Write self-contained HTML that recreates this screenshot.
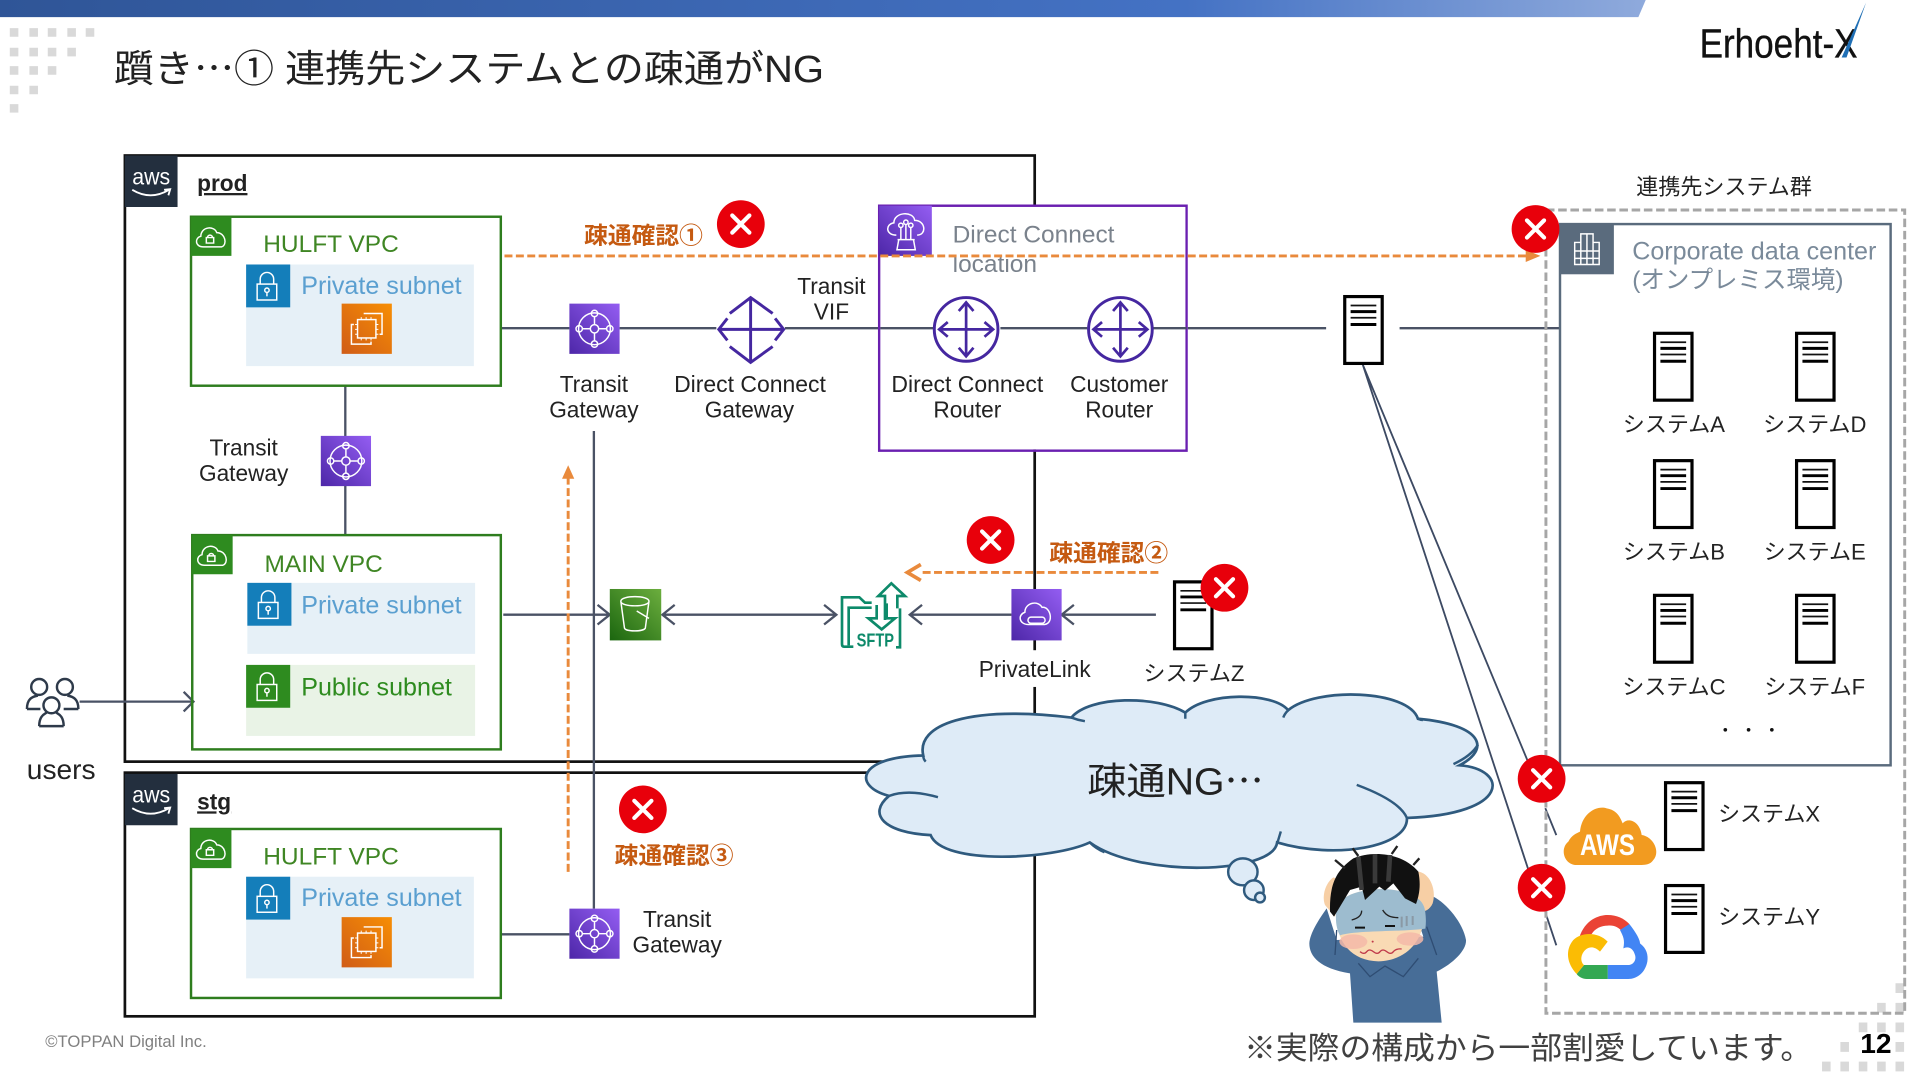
<!DOCTYPE html>
<html lang="ja"><head><meta charset="utf-8"><title>疎通NG</title>
<style>
html,body{margin:0;padding:0;background:#fff;width:1920px;height:1080px;overflow:hidden}
svg{display:block}
text{font-family:"Liberation Sans","Noto Sans CJK JP",sans-serif;fill:#222}
.j{font-family:"Noto Sans CJK JP",sans-serif}
.c{text-anchor:middle}
.l{font-size:18.5px}
.s{font-size:18px}
.g{fill:#3f8624;font-size:20px}
.b{fill:#5a9fd0;font-size:20.5px}
.o{fill:#c55a11;font-size:19px;font-weight:700}
.ln{stroke:#4a5265;stroke-width:1.900;fill:none}
.w{stroke:#fff;stroke-width:1.200;fill:none}
</style></head><body>
<svg xmlns="http://www.w3.org/2000/svg" width="1920" height="1080" viewBox="0 0 1568 882">
<defs>
<linearGradient id="bar" x1="0" x2="1" y1="0" y2="0"><stop offset="0" stop-color="#2f5597"/><stop offset=".72" stop-color="#4472c4"/><stop offset="1" stop-color="#8faadc"/></linearGradient>
<linearGradient id="pu" x1="1" x2="0" y1="0" y2="1"><stop offset="0" stop-color="#945df2"/><stop offset="1" stop-color="#4d27a8"/></linearGradient>
<linearGradient id="or" x1="1" x2="0" y1="0" y2="1"><stop offset="0" stop-color="#f78e04"/><stop offset="1" stop-color="#d05c17"/></linearGradient>
<linearGradient id="gr" x1="1" x2="0" y1="0" y2="1"><stop offset="0" stop-color="#6cae3e"/><stop offset="1" stop-color="#1b660f"/></linearGradient>
<g id="srv"><rect x="1.200" y="1.200" width="30.600" height="54.600" fill="#fff" stroke="#000" stroke-width="2.600"/><path d="M6 8.500h21M6 18.500h21" stroke="#111" stroke-width="1.400"/><path d="M6 13.500h21M6 24h21" stroke="#000" stroke-width="2.400"/></g>
<g id="tgw"><path d="M0 0h41v41H0z" fill="url(#pu)"/><circle cx="20.500" cy="20.500" r="13" class="w"/><circle cx="20.500" cy="20.500" r="3.400" class="w"/><circle cx="20.500" cy="8" r="2.600" class="w"/><circle cx="20.500" cy="33" r="2.600" class="w"/><circle cx="8" cy="20.500" r="2.600" class="w"/><circle cx="33" cy="20.500" r="2.600" class="w"/><path d="M20.500 10.500v6.500M20.500 24v6.500M10.500 20.500h6.500M24 20.500h6.500" class="w"/></g>
<g id="ec2"><path d="M0 0h41v41H0z" fill="url(#or)"/><rect x="13" y="13" width="15" height="15" class="w"/><path d="M16 11v2M20 11v2M24 11v2M16 28v2M20 28v2M24 28v2M11 17h2M11 21h2M11 25h2M28 17h2M28 21h2M28 25h2" stroke="#fff" stroke-width=".8"/><path d="M18 8h15v17h-2M10 17H8v16h16v-2" class="w"/></g>
<g id="vpc"><path d="M0 0h33v32H0z" fill="#2e8b1f"/><path d="M10 24.600C3 24.600 3 17 8 16 8 8 19 7 21 13 28 13 30 23 25 24.600Z" class="w"/><path d="M12.500 17h6v4.500h-6zM13.500 17a2 2 0 0 1 4 0" class="w" stroke-width="1"/></g>
<g id="lock"><rect x="9" y="16" width="16" height="13" class="w"/><path d="M11.500 16v-4a5.500 5.500 0 0 1 11 0v4" class="w"/><circle cx="17" cy="21" r="1.800" class="w"/><path d="M17 23v3" class="w"/></g>
<g id="aws"><path d="M0 0h43v42H0z" fill="#232f3e"/><path d="M6 28q15 9 30 0M32 28l5-.5-1.500 5" fill="none" stroke="#fff" stroke-width="1.500"/></g>
<g id="x"><circle r="19.500" fill="#e8000b"/><path d="M-7-7 7 7M7-7-7 7" stroke="#fff" stroke-width="3.400" stroke-linecap="round"/></g>
<g id="rt"><circle r="26" fill="#fff" stroke="#4527a0" stroke-width="2.400"/><path d="M-21 0H21M0-21V21" stroke="#4527a0" stroke-width="2.200"/><path d="M-15-6-22 0-15 6M15-6 22 0 15 6M-6-15 0-22 6-15M-6 15 0 22 6 15" fill="none" stroke="#4527a0" stroke-width="2.200"/></g>
</defs>

<!-- header -->
<polygon points="0,0 1344,0 1338,14 0,14" fill="url(#bar)"/>
<g fill="#d9d9d9">
<path d="M8 23h7v7H8zM24 23h7v7h-7zM39 23h7v7h-7zM55 23h7v7h-7zM70 23h7v7h-7zM8 39h7v7H8zM24 39h7v7h-7zM39 39h7v7h-7zM55 39h7v7h-7zM8 54h7v7H8zM24 54h7v7h-7zM39 54h7v7h-7zM8 70h7v7H8zM24 70h7v7h-7zM8 85h7v7H8z"/>
<path d="M1548 803h7v8h-7zM1533 819h7v8h-7zM1548 819h7v8h-7zM1518 835h7v8h-7zM1533 835h7v8h-7zM1548 835h7v8h-7zM1503 851h7v8h-7zM1548 851h7v8h-7zM1488 867h7v8h-7zM1503 867h7v8h-7zM1518 867h7v8h-7zM1533 867h7v8h-7zM1548 867h7v8h-7z"/>
</g>
<text x="93" y="67" font-size="31" textLength="580" lengthAdjust="spacingAndGlyphs">躓き<tspan class="j">…</tspan>① 連携先システムとの疎通がNG</text>
<text x="1388" y="47" font-size="33.500" style="fill:#111" stroke="#111" stroke-width=".3" textLength="129" lengthAdjust="spacingAndGlyphs">Erhoeht-X</text>
<polygon points="1504,47 1508,47 1524,2" fill="#1f6fb5"/>

<!-- prod / stg -->
<rect x="102" y="127" width="743" height="495" fill="#fff" stroke="#111" stroke-width="2.200"/>
<rect x="102" y="631" width="743" height="199" fill="#fff" stroke="#111" stroke-width="2.200"/>
<use href="#aws" x="102" y="127"/><text x="123.500" y="150.500" class="c" font-size="19" style="fill:#fff" textLength="31" lengthAdjust="spacingAndGlyphs">aws</text>
<use href="#aws" x="102" y="632"/><text x="123.500" y="655.500" class="c" font-size="19" style="fill:#fff" textLength="31" lengthAdjust="spacingAndGlyphs">aws</text>
<text x="161" y="156" font-size="18.500" font-weight="700" text-decoration="underline">prod</text>
<text x="161" y="661" font-size="18.500" font-weight="700" text-decoration="underline">stg</text>

<!-- lines behind -->
<path class="ln" d="M409 268H465M506 268H585M641 268H762M817 268H888M970 268H1083M1143 268H1275"/>
<path class="ln" d="M282 315V437"/>
<path class="ln" d="M485 352V742" stroke-width="1.500"/>
<path class="ln" d="M409 763H465"/>
<path class="ln" d="M411 502H497M488 494 498 502 488 510"/>
<path class="ln" d="M541 502H683M551 494 541 502 551 510M673 494 683 502 673 510"/>
<path class="ln" d="M743 502H826M753 494 743 502 753 510"/>
<path class="ln" d="M867 502H944M877 494 867 502 877 510"/>
<path class="ln" d="M65 573H158M150 565 158 573 150 581"/>
<path d="M1113 298 1252 632M1113 298 1252 722" stroke="#3d4a63" stroke-width="1.500" fill="none"/>
<path d="M1262 660 1271 682M1262 745 1271 772" stroke="#3d4a63" stroke-width="1.500" fill="none"/>

<!-- VPC HULFT prod -->
<rect x="156" y="177" width="253" height="138" fill="none" stroke="#2e7d1e" stroke-width="2"/>
<use href="#vpc" x="156" y="177"/>
<text x="215" y="206" class="g">HULFT VPC</text>
<rect x="201" y="216" width="186" height="83" fill="#e6f0f7"/>
<rect x="201" y="216" width="36" height="35" fill="#147eba"/><use href="#lock" x="201" y="216"/>
<text x="246" y="240" class="b">Private subnet</text>
<use href="#ec2" x="279" y="248"/>

<!-- MAIN VPC -->
<rect x="157" y="437" width="252" height="175" fill="none" stroke="#2e7d1e" stroke-width="2"/>
<use href="#vpc" x="157" y="437"/>
<text x="216" y="467" class="g">MAIN VPC</text>
<rect x="202" y="476" width="186" height="58" fill="#e6f0f7"/>
<rect x="202" y="476" width="36" height="35" fill="#147eba"/><use href="#lock" x="202" y="476"/>
<text x="246" y="501" class="b">Private subnet</text>
<rect x="201" y="543" width="187" height="58" fill="#e9f3e6"/>
<rect x="201" y="543" width="36" height="35" fill="#2e8b1f"/><use href="#lock" x="201" y="543"/>
<text x="246" y="568" class="g" style="font-size:20.500px;fill:#2e8b1f">Public subnet</text>

<!-- VPC HULFT stg -->
<rect x="156" y="677" width="253" height="138" fill="none" stroke="#2e7d1e" stroke-width="2"/>
<use href="#vpc" x="156" y="677"/>
<text x="215" y="706" class="g">HULFT VPC</text>
<rect x="201" y="716" width="186" height="83" fill="#e6f0f7"/>
<rect x="201" y="716" width="36" height="35" fill="#147eba"/><use href="#lock" x="201" y="716"/>
<text x="246" y="740" class="b">Private subnet</text>
<use href="#ec2" x="279" y="749"/>

<!-- TGWs -->
<use href="#tgw" x="465" y="248"/>
<use href="#tgw" x="262" y="356"/>
<use href="#tgw" x="465" y="742"/>
<text x="485" y="320" class="c l">Transit</text><text x="485" y="341" class="c l">Gateway</text>
<text x="199" y="372" class="c l">Transit</text><text x="199" y="393" class="c l">Gateway</text>
<text x="553" y="757" class="c l">Transit</text><text x="553" y="778" class="c l">Gateway</text>

<!-- DX gateway -->
<g fill="none" stroke="#4527a0" stroke-width="2.400">
<path d="M587 269H640M613 243V296"/>
<path d="M594 260 587 269 594 278M633 260 640 269 633 278M596 256 613 243 631 256M596 283 613 296 631 283"/>
</g>
<text x="612.500" y="320" class="c l" textLength="124" lengthAdjust="spacingAndGlyphs">Direct Connect</text><text x="612" y="341" class="c l">Gateway</text>
<text x="679" y="240" class="c l">Transit</text><text x="679" y="261" class="c l">VIF</text>

<!-- DX location -->
<path d="M718 168H969V368H718Z" fill="none" stroke="#6a1fb0" stroke-width="2"/>
<rect x="719" y="169" width="249" height="198" fill="#fff"/>
<path class="ln" d="M719 268H762M817 268H888M915 268H969"/>
<rect x="718" y="168" width="43" height="41" fill="url(#pu)"/>
<g transform="translate(718 168)">
<path d="M14 24C5 24 5 15 12 14 12 5 28 4 29 12 38 12 39 24 31 24" class="w"/>
<circle cx="17.700" cy="16" r="1.800" class="w"/><circle cx="21.800" cy="13.500" r="1.800" class="w"/><circle cx="25.800" cy="16" r="1.800" class="w"/>
<path d="M17.700 18V27.700M21.800 15.500V27.700M25.800 18V27.700M15 27.700H29M16 27.700 14.500 36H29.500L28 27.700" class="w"/>
</g>
<text x="778" y="198" font-size="20" style="fill:#7a828c">Direct Connect</text>
<text x="778" y="222" font-size="20" style="fill:#7a828c">location</text>
<use href="#rt" x="789" y="269"/><use href="#rt" x="915" y="269"/>
<text x="790" y="320" class="c l" textLength="124" lengthAdjust="spacingAndGlyphs">Direct Connect</text><text x="790" y="341" class="c l">Router</text>
<text x="914" y="320" class="c l">Customer</text><text x="914" y="341" class="c l">Router</text>

<!-- S3 -->
<rect x="498" y="481" width="42" height="42" fill="url(#gr)"/>
<path d="M507 491c0-5 23-5 23 0s-23 5-23 0l3 22c1 3 15 3 17 0l3-22" class="w"/><path d="M520 499l10 6" class="w"/>

<!-- SFTP -->
<g transform="scale(.81667) translate(820 570) scale(.33333)">
<g fill="none" stroke="#0d8a6a" stroke-width="8">
<path d="M100 230H72Q66 230 66 222V82H118L135 98H155"/>
<path d="M155 113H86V226"/>
<path d="M240 115V232H228"/>
<path d="M195 150V78H175L214 40 255 78H232V115"/>
<path d="M170 105V145H145L185 178 225 145H200V100"/>
</g>
<text x="110" y="230" font-size="56" font-weight="700" textLength="112" lengthAdjust="spacingAndGlyphs" style="fill:#0d8a6a">SFTP</text>
</g>

<!-- PrivateLink -->
<rect x="826" y="481" width="41" height="42" fill="url(#pu)"/>
<path d="M840 510c-8 0-9-8-3-10 0-8 11-10 14-4 7-1 10 13 2 14zM842 504h9a2.500 2.500 0 0 1 0 5h-9a2.500 2.500 0 0 1 0-5z" class="w"/>
<rect x="794" y="531" width="103" height="30" fill="#fff"/>
<text x="845" y="553" class="c l">PrivateLink</text>

<!-- System Z -->
<use href="#srv" x="958" y="474"/>
<text x="975" y="556" class="c s">システムZ</text>

<!-- users -->
<g fill="none" stroke="#2e3a4a" stroke-width="2">
<circle cx="32" cy="561" r="6.500"/><circle cx="53" cy="561" r="6.500"/><circle cx="42" cy="576" r="6.500"/>
<path d="M22 579c0-8 4-10 9-11M64 579c0-8-4-10-9-11M22 579H33M52 579H64M32 593c0-9 5-10 6-11M52 593c0-9-5-10-6-11M32 593H52"/>
</g>
<text x="50" y="636" class="c" font-size="23">users</text>

<!-- right column -->
<rect x="1262.500" y="171.500" width="293" height="656" fill="none" stroke="#a6a6a6" stroke-width="2.400" stroke-dasharray="7 3"/>
<rect x="1274" y="183" width="270" height="442" fill="#fff" stroke="#5a6b7d" stroke-width="2"/>
<rect x="1274" y="183" width="44" height="41" fill="#5a6b7d"/>
<path d="M1286 216V198H1291V191H1301V198H1306V216ZM1291 198V216M1296 191V216M1301 198V216M1286 205H1306M1286 211H1306" class="w"/>
<text x="1333" y="212" font-size="20.500" style="fill:#7a8a9a">Corporate data center</text>
<text x="1333" y="235" font-size="20" style="fill:#7a8a9a">(オンプレミス環境)</text>
<text x="1408" y="159" class="c" font-size="18">連携先システム群</text>
<use href="#srv" x="1097" y="241"/>
<use href="#srv" x="1350" y="271"/><use href="#srv" x="1466" y="271"/>
<use href="#srv" x="1350" y="375"/><use href="#srv" x="1466" y="375"/>
<use href="#srv" x="1350" y="485"/><use href="#srv" x="1466" y="485"/>
<use href="#srv" x="1359" y="638"/><use href="#srv" x="1359" y="722"/>
<text x="1367" y="353" class="c s">システムA</text><text x="1482" y="353" class="c s">システムD</text>
<text x="1367" y="457" class="c s">システムB</text><text x="1482" y="457" class="c s">システムE</text>
<text x="1367" y="567" class="c s">システムC</text><text x="1482" y="567" class="c s">システムF</text>
<text x="1403" y="671" class="s">システムX</text><text x="1403" y="755" class="s">システムY</text>
<g fill="#111"><circle cx="1409" cy="596" r="1.500"/><circle cx="1428" cy="596" r="1.500"/><circle cx="1447" cy="596" r="1.500"/></g>

<!-- AWS + Google logos -->
<g transform="scale(.81667) translate(1540 780) scale(.33333)">
<path d="M105 255C70 250 60 205 85 185 95 165 110 160 120 155 125 100 170 75 200 85 230 90 240 110 248 130 265 110 300 125 305 165 340 170 362 215 340 240 330 255 315 255 300 255Z" fill="#f29b20"/>
<text x="120" y="225" font-size="90" font-weight="700" style="fill:#fff" textLength="165" lengthAdjust="spacingAndGlyphs">AWS</text>
<path d="M118 472C135 420 175 405 203 405 230 405 252 415 268 432L250 458C235 440 220 435 203 437 185 437 165 445 155 462Z" fill="#ea4335"/>
<path d="M268 432C290 460 300 480 300 490 320 505 325 525 322 545 315 580 290 597 265 597H203V555H265C280 555 290 540 285 525 280 505 265 497 250 505 255 480 250 470 240 450Z" fill="#4285f4"/>
<path d="M203 597H140C128 597 115 590 110 582L132 555C140 555 203 555 203 555Z" fill="#34a853"/>
<path d="M110 582C80 550 75 510 100 480 125 455 175 455 203 485L180 515C160 495 140 500 128 520 120 535 125 550 132 555Z" fill="#fbbc04"/>
</g>

<!-- cloud -->
<path d="M726 650C696 642 700 618 754 617 748 592 790 576 875 586 890 568 945 568 968 582 985 565 1040 565 1052 580 1075 561 1150 563 1158 587 1212 592 1217 612 1192 625 1232 628 1235 665 1149 668 1150 692 1090 702 1043 688 1040 714 930 717 890 688 860 702 770 707 760 682 722 680 708 665 726 650Z" fill="#deebf7" stroke="#2f5a7e" stroke-width="2.200"/>
<path d="M726 650C740 645 755 648 766 651M754 617q0 3 2 5M875 586q5 2 11 3M968 582v5M1052 580q-3 3-4 6M1158 587q2 1 4 1M1207 608q-5 9-20 16M1108 641q35 13 41 27M1046 679l-3 10M890 688q5 5 12 8" fill="none" stroke="#2f5a7e" stroke-width="2"/>
<ellipse cx="1015" cy="712" rx="12" ry="11" fill="#deebf7" stroke="#2f5a7e" stroke-width="2"/>
<ellipse cx="1024" cy="727" rx="8" ry="8" fill="#deebf7" stroke="#2f5a7e" stroke-width="2"/>
<ellipse cx="1029" cy="733" rx="4" ry="4" fill="#deebf7" stroke="#2f5a7e" stroke-width="2"/>
<text x="888" y="649" font-size="31" textLength="144" lengthAdjust="spacingAndGlyphs">疎通NG<tspan class="j">…</tspan></text>

<!-- dashed orange arrows -->
<path d="M412 209H1247" stroke="#e98a3c" stroke-width="2.400" stroke-dasharray="6.500 2.800" fill="none"/>
<path d="M1246 204 1258 209 1246 214Z" fill="#e98a3c"/>
<path d="M946 467.500H752" stroke="#e98a3c" stroke-width="2.400" stroke-dasharray="6.500 2.800" fill="none"/>
<path d="M752 461 741 467.500 752 474" stroke="#e98a3c" stroke-width="3" fill="none"/>
<path d="M464 712V390" stroke="#e98a3c" stroke-width="2.400" stroke-dasharray="6.500 2.800" fill="none"/>
<path d="M459 391 464 380 469 391Z" fill="#e98a3c"/>
<text x="477" y="199" class="o" textLength="97" lengthAdjust="spacingAndGlyphs">疎通確認①</text>
<text x="857" y="458" class="o" textLength="97" lengthAdjust="spacingAndGlyphs">疎通確認②</text>
<text x="502" y="705" class="o" textLength="97" lengthAdjust="spacingAndGlyphs">疎通確認③</text>

<!-- red X markers -->
<use href="#x" x="605" y="183"/>
<use href="#x" x="1254" y="187"/>
<use href="#x" x="809" y="441"/>
<use href="#x" x="1000" y="480"/>
<use href="#x" x="1259" y="636"/>
<use href="#x" x="1259" y="725"/>
<use href="#x" x="525" y="661"/>

<!-- person -->
<g transform="scale(.81667) translate(1290 840) scale(.33333)">
<path d="M110 205C85 240 60 280 58 310 58 350 90 385 180 400L190 548 455 548 440 395C490 370 530 330 528 300 520 250 470 190 430 170L380 230 400 290 140 300Z" fill="#476d97"/>
<path d="M130 112C105 130 95 170 105 195L135 230 150 120Z" fill="#f7cfa5"/>
<path d="M385 95C420 100 440 150 428 190 415 218 390 218 376 212Z" fill="#f7cfa5"/>
<path d="M140 200C130 300 180 362 265 364 350 362 410 300 402 200 380 130 170 130 140 200Z" fill="#f9dab4"/>
<ellipse cx="190" cy="305" rx="42" ry="22" fill="#f4b8a8" opacity=".85"/>
<ellipse cx="360" cy="297" rx="40" ry="20" fill="#f4b8a8" opacity=".85"/>
<path d="M140 200C134 240 140 270 150 286 200 270 340 276 406 266 410 240 406 210 402 200 380 130 170 130 140 200Z" fill="#9dbccf"/>
<path d="M120 215C118 130 140 90 190 55 250 30 340 40 385 95 392 130 390 160 378 192L345 175 310 130 285 152 268 140 225 180 215 140 180 150 132 230Z" fill="#111"/>
<path d="M205 50 215 150M255 42V130M300 45 295 125" stroke="#3a3a3a" stroke-width="14" fill="none"/>
<path d="M135 60 165 85M188 25 205 48M322 18 305 42M388 55 370 75" stroke="#222" stroke-width="7"/>
<path d="M185 240C205 235 215 225 215 212M278 210C290 230 305 232 325 233" stroke="#222" stroke-width="4" fill="none"/>
<path d="M195 263H225M285 258H315" stroke="#111" stroke-width="6"/>
<circle cx="248" cy="305" r="3" fill="#c0394a"/>
<path d="M210 335q12 10 20 0t20 0 20 0 20 0 20 0 25-8" stroke="#c0394a" stroke-width="4" fill="none"/>
<path d="M205 370 240 410 285 378 340 410 385 355M135 345 140 270M440 345 410 260" stroke="#2f4d73" stroke-width="4" fill="none"/>
<path d="M335 230V262M350 228V258M368 228V255" stroke="#8a99a5" stroke-width="6"/>
</g>

<!-- footer -->
<text x="37" y="855" font-size="13.600" style="fill:#808080">©TOPPAN Digital Inc.</text>
<text x="1016" y="865" font-size="25.500" textLength="464" lengthAdjust="spacingAndGlyphs" style="fill:#404040">※実際の構成から一部割愛しています。</text>
<text x="1532" y="860" class="c" font-size="23" font-weight="700" style="fill:#000">12</text>
</svg>
</body></html>
